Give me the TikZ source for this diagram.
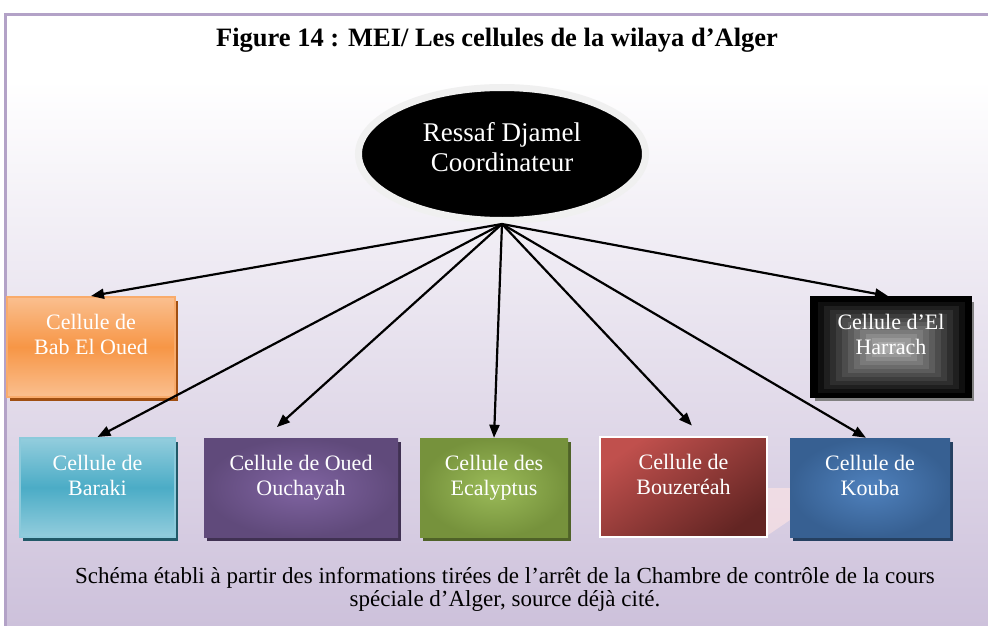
\documentclass[tikz,border=0pt]{standalone}
\usepackage{fontspec}
\setmainfont{Liberation Serif}
\usetikzlibrary{positioning,shapes.geometric,shadows,arrows.meta,calc}

\definecolor{framecol}{HTML}{B3A2C7}
\definecolor{canvasbot}{HTML}{CDC1DB}
\definecolor{orlight}{HTML}{FABF8F}
\definecolor{ordark}{HTML}{F79646}
\definecolor{orshadow}{HTML}{A04F12}
\definecolor{bllight}{HTML}{93CDDD}
\definecolor{bldark}{HTML}{4BACC6}
\definecolor{blshadow}{HTML}{215968}
\definecolor{puin}{HTML}{8064A2}
\definecolor{puout}{HTML}{604A7B}
\definecolor{pushadow}{HTML}{403152}
\definecolor{grin}{HTML}{9BBB59}
\definecolor{grout}{HTML}{76923C}
\definecolor{grshadow}{HTML}{4F6228}
\definecolor{rdlight}{HTML}{C0504D}
\definecolor{rddark}{HTML}{632523}
\definecolor{kbin}{HTML}{4F81BD}
\definecolor{kbout}{HTML}{376092}
\definecolor{kbshadow}{HTML}{254061}

\begin{document}
\begin{tikzpicture}[x=1pt, y=-1pt,
  every text node part/.style={align=center},
  cell/.style={shape=rectangle, inner sep=0pt, text=white,
    font=\fontsize{22}{25}\selectfont},
  link/.style={-{Triangle[length=13pt,width=10pt]}, line width=2.2pt}]
  \useasboundingbox (0,0) rectangle (988,626);
  \fill[white] (0,0) rectangle (988,626);
  \shade[top color=white, bottom color=canvasbot] (6,80) rectangle (988,626);
  \draw[framecol, line width=3pt] (5,626) -- (5,15) -- (988,15);
  \node (title) [font=\bfseries\fontsize{26.5}{28}\selectfont] at (497,40) {Figure 14 : MEI/ Les cellules de la wilaya d’Alger};

  \node (coord) [ellipse, fill=black, draw=gray!12, line width=7pt,
    minimum width=287pt, minimum height=133pt, inner sep=0pt, outer sep=3.5pt,
    text=white, font=\fontsize{27}{30}\selectfont,
    drop shadow={opacity=0.3, shadow xshift=2pt, shadow yshift=-2pt}]
    at (502,154) {Ressaf Djamel\\Coordinateur\\[-15pt]~};

  \fill[pink!40, opacity=0.6] (768,488) -- (790,488) -- (790,520) -- (768,535) -- cycle;

  \node (babeloued) [cell, minimum width=168pt, minimum height=100pt,
    top color=orlight, bottom color=orlight, middle color=ordark, draw=ordark!80!white, line width=2pt,
    drop shadow={fill=orshadow, opacity=1, shadow xshift=3pt, shadow yshift=-4pt}]
    at (91,347) {Cellule de\\Bab El Oued\\~};
  \node (harrach) [cell, minimum width=159pt, minimum height=99pt, fill=black,
    path picture={
      \foreach \k in {1,...,11}
        \fill[white!\the\numexpr\k*6\relax!black]
          ([xshift=\k*6pt, yshift=-\k*4pt]path picture bounding box.north west) rectangle
          ([xshift=-\k*6pt, yshift=\k*4pt]path picture bounding box.south east);
    },
    draw=black, line width=3pt,
    drop shadow={fill=gray, opacity=1, shadow xshift=3pt, shadow yshift=-4pt}]
    at (891,347) {Cellule d’El\\Harrach\\~};
  \node (baraki) [cell, minimum width=155pt, minimum height=99pt,
    top color=bllight, bottom color=bllight, middle color=bldark, draw=bllight!90!bldark, line width=2pt,
    drop shadow={fill=blshadow, opacity=1, shadow xshift=3pt, shadow yshift=-4pt}]
    at (97.5,487.5) {Cellule de\\Baraki\\~};
  \node (oued) [cell, minimum width=194pt, minimum height=99pt,
    inner color=puin, outer color=puout,
    drop shadow={fill=pushadow, opacity=1, shadow xshift=3pt, shadow yshift=-4pt}]
    at (301,487.5) {Cellule de Oued\\Ouchayah\\~};
  \node (ecal) [cell, minimum width=148pt, minimum height=99pt,
    inner color=grin, outer color=grout,
    drop shadow={fill=grshadow, opacity=1, shadow xshift=3pt, shadow yshift=-4pt}]
    at (494,487.5) {Cellule des\\Ecalyptus\\~};
  \node (bouz) [cell, minimum width=167pt, minimum height=100pt,
    top color=rdlight, bottom color=rddark, shading angle=35, draw=white, line width=2.5pt]
    at (683.5,487) {Cellule de\\Bouzeréah\\~};
  \node (kouba) [cell, minimum width=160pt, minimum height=99pt,
    inner color=kbin, outer color=kbout,
    drop shadow={fill=kbshadow, opacity=1, shadow xshift=3pt, shadow yshift=-4pt}]
    at (870,487.5) {Cellule de\\Kouba\\~};

  \draw[link] (coord.south) -- (babeloued.north);
  \draw[link] (coord.south) -- ([xshift=-3pt]harrach.north);
  \draw[link] (coord.south) -- (baraki.north);
  \draw[link, shorten >=16pt] (coord.south) -- ($(oued.north)+(-36,0)$);
  \draw[link] (coord.south) -- (ecal.north);
  \draw[link, shorten >=14pt] (coord.south) -- ($(bouz.north)+(18,0)$);
  \draw[link] (coord.south) -- ([xshift=-4pt]kouba.north);

  \node (src) [font=\fontsize{23}{23}\selectfont] at (505,589) {Schéma établi à partir des informations tirées de l’arrêt de la Chambre de contrôle de la cours\\spéciale d’Alger, source déjà cité.};
\end{tikzpicture}
\end{document}
